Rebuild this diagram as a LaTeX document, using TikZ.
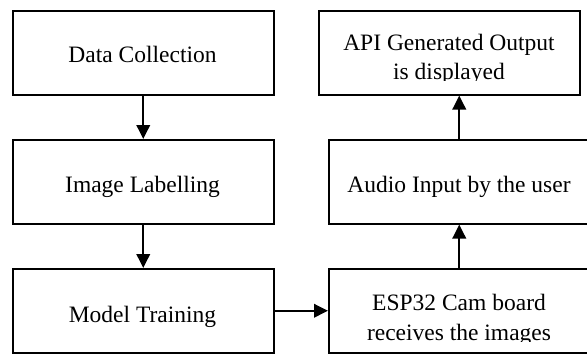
\documentclass[tikz,border=0pt]{standalone}
\usepackage{fontspec}
\setmainfont{Liberation Serif}
\usetikzlibrary{arrows.meta}
\begin{document}
\begin{tikzpicture}[x=1pt,y=-1pt,
  box/.style={draw, line width=1.5pt, rectangle, minimum width=261pt, minimum height=84pt, inner sep=0pt, anchor=north west},
  lbl/.style={font=\fontsize{23.5}{28}\selectfont, anchor=base, inner sep=0pt},
  conn/.style={line width=1.9pt, -{Triangle[length=14pt,width=13.5pt]}}]
\useasboundingbox (0,0) rectangle (587,354);
\clip (0,0) rectangle (587,354);
% boxes
\node[box] (dc)  at (12,10)  {};
\node[box] (il)  at (12,139) {};
\node[box] (mt)  at (12,268) {};
\node[box] (api) at (318,10) {};
\node[box] (au)  at (328,139) {};
\node[box] (esp) at (328,268) {};
% labels
\node[lbl] (tdc) at (142.5,62)  {Data Collection};
\node[lbl] (til) at (142.5,192) {Image Labelling};
\node[lbl] (tmt) at (142.5,322) {Model Training};
\node[lbl] (tau) at (459,192)   {Audio Input by the user};
\begin{scope}
  \clip (318,10) rectangle (580,80.5);
  \node[lbl] (tapi1) at (449,50)   {API Generated Output};
  \node[lbl] (tapi2) at (449,79.5) {is displayed};
\end{scope}
\begin{scope}
  \clip (328,268) rectangle (590,341.5);
  \node[lbl] (tesp1) at (459,310) {ESP32 Cam board};
  \node[lbl] (tesp2) at (459,340) {receives the images};
\end{scope}
% connectors
\draw[conn] (dc) -- (il);
\draw[conn] (il) -- (mt);
\draw[conn] (mt) -- (esp);
\draw[conn] (esp) -- (au);
\draw[conn] (au.north) -- (au.north |- api.south);
\end{tikzpicture}
\end{document}
